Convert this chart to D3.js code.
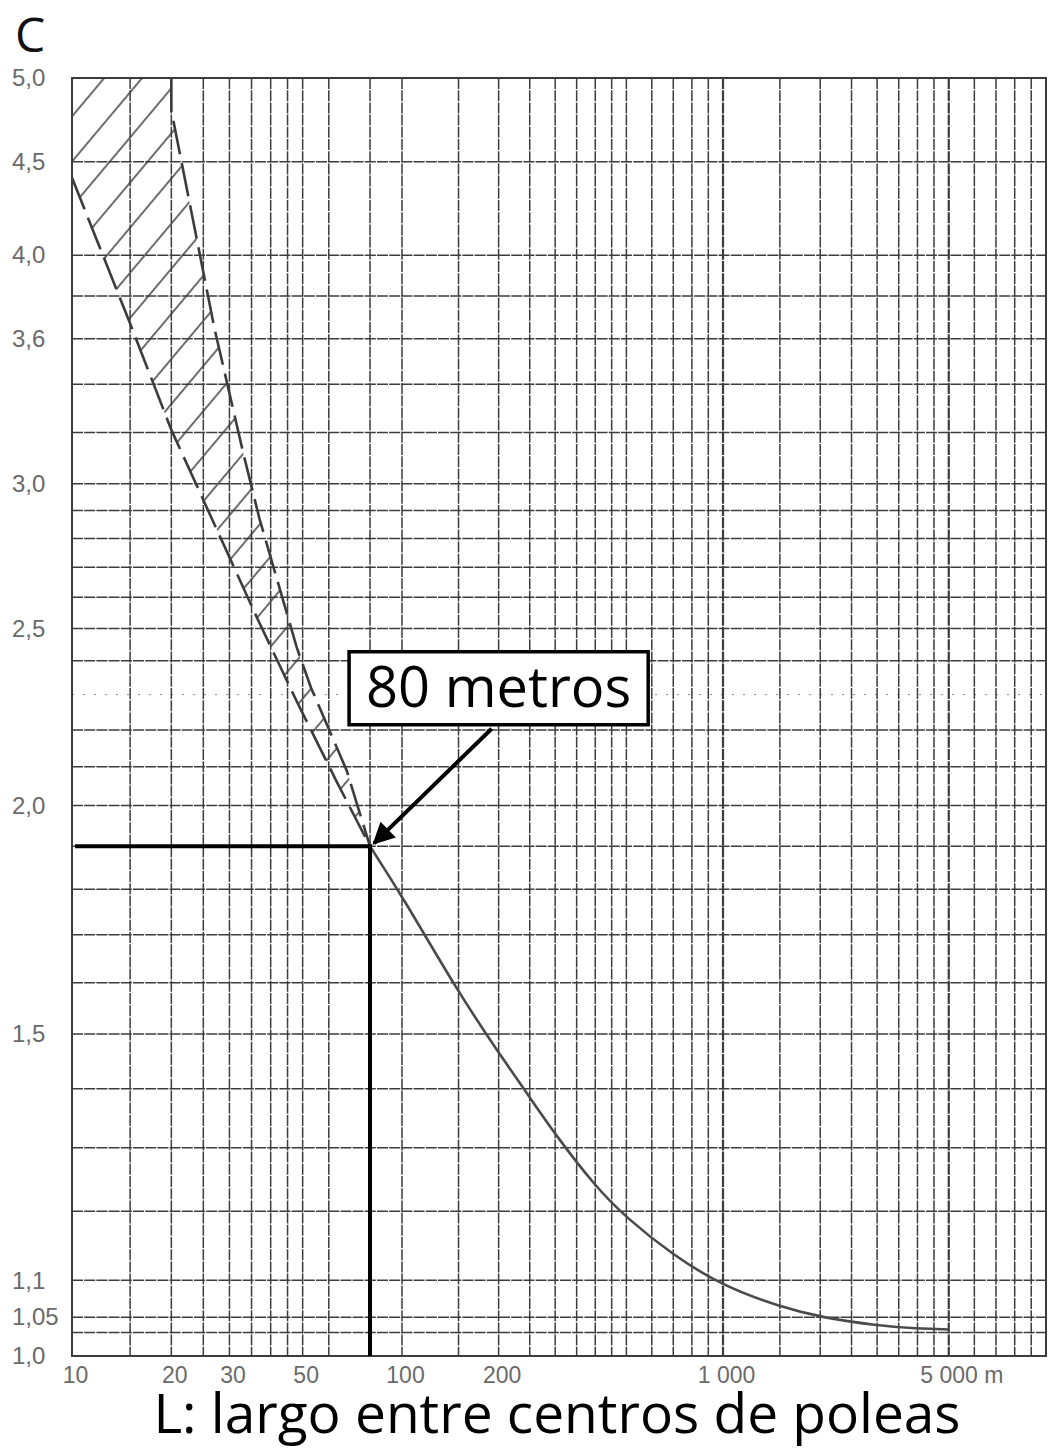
<!DOCTYPE html>
<html>
<head>
<meta charset="utf-8">
<script src="https://cdn.jsdelivr.net/npm/d3@7"></script>
<style>
body { margin: 0; background: #fff; }
</style>
</head>
<body>
<script>
// lines printed on the chart paper
const xGrid = [10, 15, 20, 25, 30, 35, 40, 45, 50, 60, 80,
               100, 150, 200, 250, 300, 350, 400, 450, 500, 600, 700, 800, 900,
               1000, 1500, 2000, 2500, 3000, 3500, 4000, 4500, 5000, 6000, 7000, 8000, 9000, 10000];
const xGridBold = [1000, 5000];
const yGrid = [1.0, 1.03, 1.05, 1.1, 1.2, 1.3, 1.4, 1.5, 1.6, 1.7, 1.8, 1.9, 2.0, 2.1, 2.2,
               2.4, 2.5, 2.6, 2.7, 2.8, 2.9, 3.0, 3.2, 3.4, 3.6, 3.8, 4.0, 4.5, 5.0];
const yGridFaint = [2.3];

const xTicks = [10, 20, 30, 50, 100, 200, 1000, 5000];
const xTickLabels = ["10", "20", "30", "50", "100", "200", "1 000", "5 000 m"];
const yTicks = [1.0, 1.05, 1.1, 1.5, 2.0, 2.5, 3.0, 3.6, 4.0, 4.5, 5.0];
const yTickLabels = ["1,0", "1,05", "1,1", "1,5", "2,0", "2,5", "3,0", "3,6", "4,0", "4,5", "5,0"];

// factor C against L (m)
const curveL = [80, 100, 150, 200, 250, 300, 400, 500, 700, 1000, 1500, 2000, 3000, 4000, 5000];
const curveC = [1.90, 1.785, 1.58, 1.465, 1.385, 1.322, 1.238, 1.19, 1.135, 1.092, 1.064, 1.05, 1.039, 1.035, 1.034];

// hatched zone for short belts
const bandRightL = [20, 20, 27, 33, 37, 48, 53, 68, 80];
const bandRightC = [5.0, 4.8, 3.65, 3.12, 2.87, 2.44, 2.32, 2.09, 1.9];
const bandLeftL = [10, 15, 20, 27.5, 36.5, 48, 63.5, 80];
const bandLeftC = [4.41, 3.67, 3.21, 2.83, 2.53, 2.28, 2.06, 1.9];

// reading marked on the chart
const markL = 80, markC = 1.9;
const markLabel = "80 metros";
const labelL = 200, labelC = 2.32;

const letter = "C";
const xTitle = "L: largo entre centros de poleas";

const W = 1050, H = 1450;
const ink = "#3c3c3c";

const svg = d3.select("body").append("svg")
    .attr("width", W)
    .attr("height", H)
    .style("font-family", "'Liberation Sans', Arial, sans-serif");

// the scanned paper is a little uneven between decades
let x = d3.scaleLog().domain([10, 100, 1000, 10000]).range([72, 402, 723, 1046]);
let y = d3.scaleLog().domain([1, 5]).range([1356, 78]);

let defs = svg.append("defs");
defs.append("pattern")
    .attr("id", "hatch")
    .attr("patternUnits", "userSpaceOnUse")
    .attr("width", 12)
    .attr("height", 29)
    .attr("patternTransform", "rotate(-50)")
  .append("line")
    .attr("x1", 0).attr("x2", 12)
    .attr("y1", 14).attr("y2", 14)
    .attr("stroke", ink)
    .attr("stroke-width", 1.5);
defs.append("marker")
    .attr("id", "arrow")
    .attr("viewBox", "0 0 10 10")
    .attr("refX", 9)
    .attr("refY", 5)
    .attr("markerUnits", "userSpaceOnUse")
    .attr("markerWidth", 26)
    .attr("markerHeight", 22)
    .attr("orient", "auto")
  .append("path")
    .attr("d", "M0,0L10,5L0,10z")
    .attr("fill", "#000");

// grid
let grid = svg.append("g")
    .attr("stroke", ink)
    .attr("stroke-dasharray", "11,1.2");
grid.selectAll("line.v")
    .data(xGrid)
    .join("line")
      .attr("class", "v")
      .attr("x1", d => x(d))
      .attr("x2", d => x(d))
      .attr("y1", y(5))
      .attr("y2", y(1))
      .attr("stroke-width", d => xGridBold.includes(d) ? 2.2 : 1.5);
grid.selectAll("line.h")
    .data(yGrid)
    .join("line")
      .attr("class", "h")
      .attr("x1", x(10))
      .attr("x2", x(10000))
      .attr("y1", d => y(d))
      .attr("y2", d => y(d))
      .attr("stroke-width", 1.5);
grid.selectAll("line.f")
    .data(yGridFaint)
    .join("line")
      .attr("class", "f")
      .attr("x1", x(10))
      .attr("x2", x(10000))
      .attr("y1", d => y(d))
      .attr("y2", d => y(d))
      .attr("stroke-width", 1)
      .attr("stroke-dasharray", "2,9")
      .attr("stroke-opacity", 0.6);

svg.append("rect")
    .attr("x", x(10))
    .attr("y", y(5))
    .attr("width", x(10000) - x(10))
    .attr("height", y(1) - y(5))
    .attr("fill", "none")
    .attr("stroke", ink)
    .attr("stroke-width", 2);

// hatched band
let rightPts = d3.zip(bandRightL, bandRightC);
let leftPts = d3.zip(bandLeftL, bandLeftC);
let bandPts = [[x.domain()[0], y.domain()[1]]].concat(rightPts, leftPts.slice().reverse());
let toLine = d3.line().x(d => x(d[0])).y(d => y(d[1]));

svg.append("path")
    .attr("d", toLine(bandPts) + "Z")
    .attr("fill", "url(#hatch)")
    .attr("stroke", "none");
svg.append("path")
    .attr("d", toLine(rightPts))
    .attr("fill", "none")
    .attr("stroke", ink)
    .attr("stroke-width", 2.6)
    .attr("stroke-dasharray", "34,9");
svg.append("path")
    .attr("d", toLine(leftPts))
    .attr("fill", "none")
    .attr("stroke", ink)
    .attr("stroke-width", 2.6)
    .attr("stroke-dasharray", "34,9");

// main curve
svg.append("path")
    .datum(d3.zip(curveL, curveC))
    .attr("fill", "none")
    .attr("stroke", "#4a4a4a")
    .attr("stroke-width", 2.6)
    .attr("d", d3.line()
        .x(d => x(d[0]))
        .y(d => y(d[1]))
        .curve(d3.curveBasis));

// axes
let xAxis = svg.append("g")
    .attr("transform", `translate(0,${y(1)})`)
    .call(d3.axisBottom(x).tickValues(xTicks).tickFormat((d, i) => xTickLabels[i]).tickSize(0).tickPadding(11))
    .call(g => g.select(".domain").remove());
xAxis.selectAll("text")
    .attr("dx", 3)
    .attr("fill", "#6a6a6a")
    .style("font-size", "23px")
    .style("font-family", "'Liberation Sans', Arial, sans-serif");
xAxis.selectAll("text")
    .filter((d, i) => i === xTicks.length - 1)
    .attr("text-anchor", "start")
    .attr("dx", -29);

let yAxis = svg.append("g")
    .attr("transform", `translate(${x(10)},0)`)
    .call(d3.axisLeft(y).tickValues(yTicks).tickFormat((d, i) => yTickLabels[i]).tickSize(0))
    .call(g => g.select(".domain").remove());
yAxis.selectAll("text")
    .attr("x", 12 - x(10))
    .attr("text-anchor", "start")
    .attr("fill", "#6a6a6a")
    .style("font-size", "24px")
    .style("font-family", "'Liberation Sans', Arial, sans-serif");

// reading lines for 80 m
svg.append("line")
    .attr("x1", x(10) + 3)
    .attr("x2", x(markL))
    .attr("y1", y(markC))
    .attr("y2", y(markC))
    .attr("stroke", "#000")
    .attr("stroke-width", 4);
svg.append("line")
    .attr("x1", x(markL))
    .attr("x2", x(markL))
    .attr("y1", y(markC) - 2)
    .attr("y2", y(1))
    .attr("stroke", "#000")
    .attr("stroke-width", 4);

// label box and arrow
let cx = x(labelL), cy = y(labelC);
let label = svg.append("g");
let boxRect = label.append("rect");
let boxText = label.append("text")
    .attr("x", cx)
    .attr("y", cy + 19)
    .attr("text-anchor", "middle")
    .style("font-family", "'Open Sans', sans-serif")
    .style("font-size", "56px")
    .attr("fill", "#000")
    .text(markLabel);
let tw = boxText.node().getComputedTextLength();
boxRect.attr("x", cx - tw / 2 - 17)
    .attr("y", cy - 36)
    .attr("width", tw + 34)
    .attr("height", 73)
    .attr("fill", "#fff")
    .attr("stroke", "#000")
    .attr("stroke-width", 3.5);

svg.append("line")
    .attr("x1", cx - 7)
    .attr("y1", cy + 41)
    .attr("x2", x(markL) + 4)
    .attr("y2", y(markC) - 3)
    .attr("stroke", "#000")
    .attr("stroke-width", 4)
    .attr("marker-end", "url(#arrow)");

// titles
svg.append("text")
    .attr("x", 15)
    .attr("y", 52)
    .style("font-family", "'Open Sans', sans-serif")
    .style("font-size", "48px")
    .attr("fill", "#111")
    .text(letter);
svg.append("text")
    .attr("x", 557)
    .attr("y", 1433)
    .attr("text-anchor", "middle")
    .style("font-family", "'Open Sans', sans-serif")
    .style("font-size", "55px")
    .attr("fill", "#000")
    .text(xTitle);
</script>
</body>
</html>
